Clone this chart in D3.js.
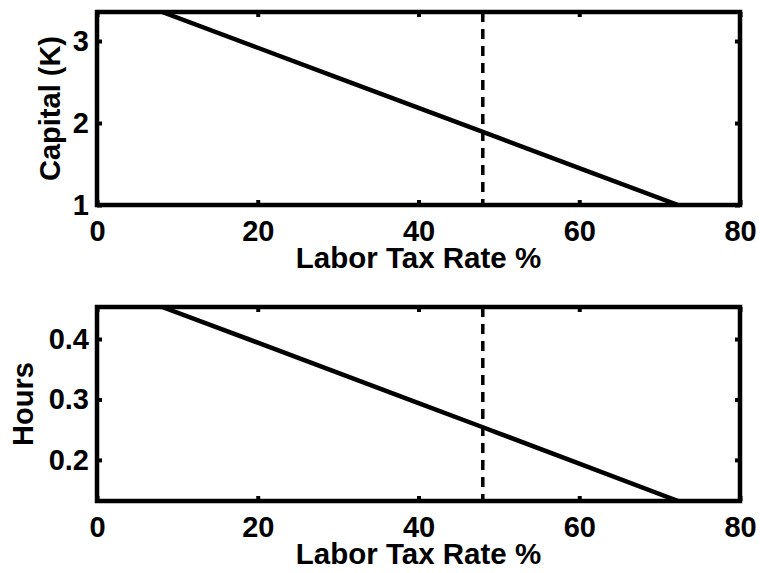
<!DOCTYPE html>
<html>
<head>
<meta charset="utf-8">
<script src="https://cdn.jsdelivr.net/npm/d3@7"></script>
<style>
  body { margin: 0; background: #fff; }
  svg text { font-family: "Liberation Sans", Arial, Helvetica, sans-serif; font-weight: bold; }
</style>
</head>
<body>
<div id="chart-area"></div>
<script>
// data
var taxRate  = [8.1, 20, 30, 40, 48, 50, 60, 72.3];
var capital  = [3.354, 2.918, 2.551, 2.184, 1.891, 1.818, 1.451, 1.0];
var hours    = [0.453, 0.394, 0.344, 0.294, 0.254, 0.244, 0.194, 0.132];
var markRate = 48;
var xTicks = [0, 20, 40, 60, 80];
var capTicks = [1, 2, 3];
var hourTicks = [0.2, 0.3, 0.4];

var W = 760, H = 573;
var left = 97, right = 740;

var svg = d3.select("#chart-area")
    .append("svg")
        .attr("width", W)
        .attr("height", H);

var x = d3.scaleLinear()
    .domain([0, 80])
    .range([left, right]);

var panels = [
    { top: 12,  bottom: 205, domain: [1, 3.354],     values: capital, ticks: capTicks,
      fmt: d3.format("d"),   label: "Capital (K)", labelX: 50 },
    { top: 307, bottom: 501, domain: [0.132, 0.453], values: hours,   ticks: hourTicks,
      fmt: d3.format(".1f"), label: "Hours",       labelX: 23 }
];

panels.forEach(function(p, i) {
    var g = svg.append("g");

    var y = d3.scaleLinear()
        .domain(p.domain)
        .range([p.bottom, p.top]);

    // inward ticks on all four sides, like a matlab box
    var xb = g.append("g")
        .attr("transform", "translate(0," + p.bottom + ")")
        .call(d3.axisBottom(x).tickValues(xTicks).tickSize(-5).tickSizeOuter(0).tickPadding(15));
    var xt = g.append("g")
        .attr("transform", "translate(0," + p.top + ")")
        .call(d3.axisTop(x).tickValues(xTicks).tickSize(-5).tickSizeOuter(0).tickFormat(""));
    var yl = g.append("g")
        .attr("transform", "translate(" + left + ",0)")
        .call(d3.axisLeft(y).tickValues(p.ticks).tickSize(-5).tickSizeOuter(0).tickPadding(8).tickFormat(p.fmt));
    var yr = g.append("g")
        .attr("transform", "translate(" + right + ",0)")
        .call(d3.axisRight(y).tickValues(p.ticks).tickSize(-5).tickSizeOuter(0).tickFormat(""));

    [xb, xt, yl, yr].forEach(function(a) {
        a.select(".domain").remove();
        a.selectAll("line").attr("stroke", "#000").attr("stroke-width", 4);
        a.selectAll("text").attr("fill", "#000").attr("font-size", "29px");
    });
    xb.selectAll("text").attr("dy", "0.71em");

    // clip for data
    var clipId = "clip" + i;
    g.append("clipPath").attr("id", clipId)
        .append("rect")
            .attr("x", left).attr("y", p.top)
            .attr("width", right - left).attr("height", p.bottom - p.top);

    var line = d3.line()
        .x(function(d, j) { return x(taxRate[j]); })
        .y(function(d) { return y(d); });

    g.append("path")
        .datum(p.values)
        .attr("clip-path", "url(#" + clipId + ")")
        .attr("fill", "none")
        .attr("stroke", "#000")
        .attr("stroke-width", 4.5)
        .attr("d", line);

    // dashed marker
    g.append("line")
        .attr("x1", x(markRate)).attr("x2", x(markRate))
        .attr("y1", p.top).attr("y2", p.bottom)
        .attr("stroke", "#000")
        .attr("stroke-width", 3.5)
        .attr("stroke-dasharray", "10,7");

    // box
    g.append("rect")
        .attr("x", left).attr("y", p.top)
        .attr("width", right - left).attr("height", p.bottom - p.top)
        .attr("fill", "none")
        .attr("stroke", "#000")
        .attr("stroke-width", 4.5);

    // labels
    g.append("text")
        .attr("x", (left + right) / 2)
        .attr("y", p.bottom + 63)
        .attr("text-anchor", "middle")
        .attr("font-size", "29.5px")
        .text("Labor Tax Rate %");

    g.append("text")
        .attr("transform", "translate(" + p.labelX + "," + ((p.top + p.bottom) / 2) + ") rotate(-90)")
        .attr("text-anchor", "middle")
        .attr("dy", "0.35em")
        .attr("font-size", "29px")
        .text(p.label);
});
</script>
</body>
</html>
